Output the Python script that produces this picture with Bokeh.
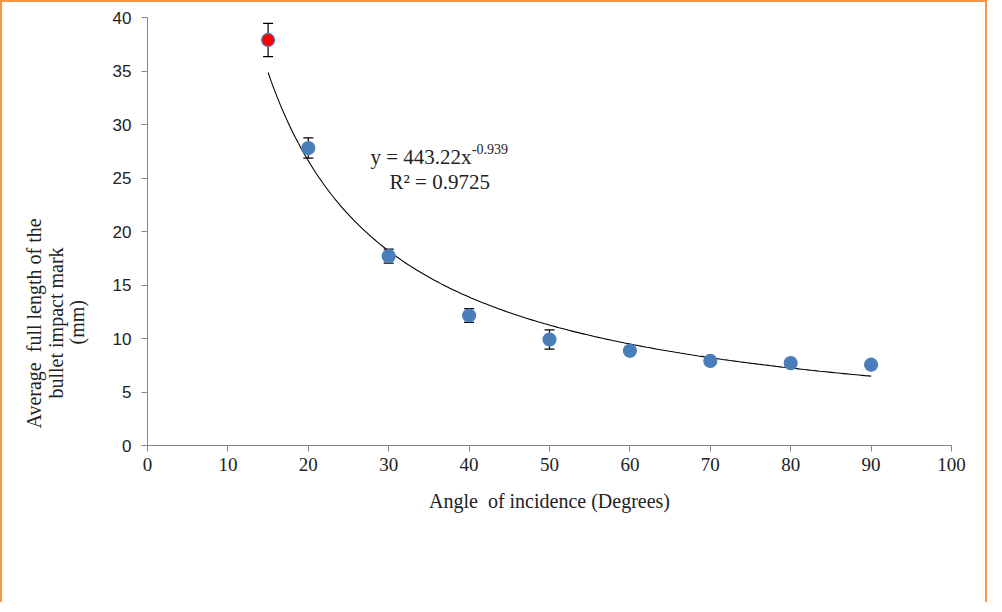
import numpy as np
from bokeh.plotting import figure
from bokeh.models import ColumnDataSource, Whisker, Label, Range1d, FixedTicker, TeeHead, Title
from bokeh.embed import file_html
from bokeh.resources import INLINE

# ---- data ----
angles = [15, 20, 30, 40, 50, 60, 70, 80, 90]
lengths = [37.9, 27.8, 17.7, 12.15, 9.9, 8.85, 7.9, 7.7, 7.55]
errors = [1.55, 0.95, 0.65, 0.65, 0.9, 0.3, 0.25, 0.25, 0.25]
point_colors = ["#FF0000", "#4A7EBB", "#4A7EBB", "#4A7EBB", "#4A7EBB",
                "#4A7EBB", "#4A7EBB", "#4A7EBB", "#4A7EBB"]
fit_coef = 443.22
fit_exp = -0.939
x_ticks = [0, 10, 20, 30, 40, 50, 60, 70, 80, 90, 100]
y_ticks = [0, 5, 10, 15, 20, 25, 30, 35, 40]
ylab_lines = ["(mm)", "bullet impact mark", "Average\u00a0 full length of the"]

p = figure(width=987, height=602, output_backend="svg", toolbar_location=None,
           x_range=Range1d(0, 100), y_range=Range1d(0, 40),
           min_border_left=145, min_border_right=38, min_border_top=15,
           min_border_bottom=159)
p.styles = {"border-top": "2px solid #F79646", "border-left": "2px solid #F79646",
            "border-right": "2px solid #F79646"}
p.outline_line_color = None
p.grid.visible = False
p.background_fill_color = "white"
p.border_fill_color = "white"

# axes
for ax in (p.xaxis[0], p.yaxis[0]):
    ax.axis_line_color = "#868686"
    ax.major_tick_line_color = "#868686"
    ax.major_tick_in = 0
    ax.major_tick_out = 6
    ax.minor_tick_line_color = None
    ax.major_label_text_color = "#222222"
p.xaxis.ticker = FixedTicker(ticks=x_ticks)
p.yaxis.ticker = FixedTicker(ticks=y_ticks)
p.xaxis.major_label_text_font = "Liberation Serif"
p.xaxis.major_label_text_font_size = "19px"
p.xaxis.major_label_standoff = 6
p.yaxis.major_label_text_font = "Liberation Sans"
p.yaxis.major_label_text_font_size = "17px"
p.yaxis.major_label_standoff = 10
p.xaxis.axis_label = "Angle\u00a0 of incidence (Degrees)"
p.xaxis.axis_label_text_font = "Liberation Serif"
p.xaxis.axis_label_text_font_size = "20px"
p.xaxis.axis_label_text_font_style = "normal"
p.xaxis.axis_label_text_color = "#222222"
p.xaxis.axis_label_standoff = 16

# y-axis title as three stacked side titles (innermost first)
ylab_offsets = [101, 47, 17]
ylab_standoffs = [43, -49, -5]
for t, off, so in zip(ylab_lines, ylab_offsets, ylab_standoffs):
    p.add_layout(Title(text=t, align="left", offset=off, standoff=so,
                       text_font="Liberation Serif", text_font_size="20px",
                       text_font_style="normal", text_color="#222222"), "left")

# trend line from the displayed fit
xs_fit = np.linspace(angles[0], angles[-1], 200)
p.line(xs_fit, fit_coef * xs_fit ** fit_exp, line_color="black", line_width=1.1)

# error bars
src = ColumnDataSource(dict(
    x=angles, y=lengths,
    upper=[v + e for v, e in zip(lengths, errors)],
    lower=[v - e for v, e in zip(lengths, errors)],
    color=point_colors))
w = Whisker(source=src, base="x", upper="upper", lower="lower",
            line_color="black", line_width=1.2,
            upper_head=TeeHead(size=10, line_color="black", line_width=1.2),
            lower_head=TeeHead(size=10, line_color="black", line_width=1.2))
p.add_layout(w)

p.scatter("x", "y", source=src, size=13, fill_color="color",
          line_color="#4A7EBB", line_width=1.2)

# equation labels
p.add_layout(Label(x=27.74, y=26.95, text="y = 443.22x", text_font="Liberation Serif",
                   text_font_size="21px", text_color="#222222", text_baseline="alphabetic"))
p.add_layout(Label(x=40.35, y=27.7, text="-0.939", text_font="Liberation Serif",
                   text_font_size="14px", text_color="#222222", text_baseline="alphabetic"))
p.add_layout(Label(x=30.1, y=24.6, text="R² = 0.9725", text_font="Liberation Serif",
                   text_font_size="21px", text_color="#222222", text_baseline="alphabetic"))

open("out.html", "w").write(file_html(p, INLINE))
